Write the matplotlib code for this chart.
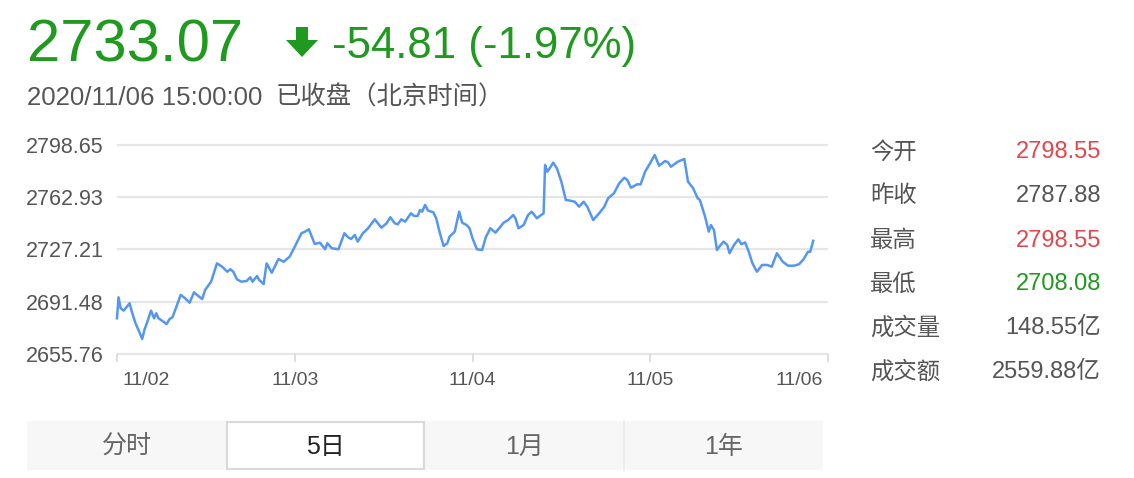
import matplotlib
matplotlib.use('Agg')
import matplotlib.pyplot as plt
import matplotlib.transforms as mtransforms
from matplotlib.patches import Rectangle, Polygon
from matplotlib.lines import Line2D

# ---------------- data ----------------
minutes = [0, 2, 5, 9, 14, 17, 20, 25, 29, 34, 37, 41, 46, 50, 53, 56, 61, 67, 71, 75,
           81, 86, 92, 98, 104, 108, 115, 119, 127, 135, 142, 149, 153, 157, 162, 168, 175, 180, 183, 189,
           192, 198, 202, 209, 218, 225, 233, 240, 249, 254, 259, 267, 274, 281, 284, 290, 299, 307, 312, 316,
           321, 325, 332, 339, 348, 357, 364, 369, 375, 379, 384, 389, 397, 401, 406, 409, 412, 416, 420, 427,
           431, 436, 441, 446, 449, 456, 462, 466, 472, 476, 480, 486, 493, 498, 504, 511, 516, 522, 528, 535,
           538, 542, 549, 555, 560, 567, 571, 576, 578, 581, 585, 589, 594, 600, 606, 612, 618, 624, 630, 635,
           643, 651, 658, 663, 671, 678, 685, 689, 694, 702, 707, 713, 719, 726, 732, 740, 744, 748, 757, 766,
           771, 778, 784, 787, 794, 799, 802, 806, 810, 815, 819, 824, 827, 833, 839, 843, 848, 853, 858, 864,
           871, 878, 884, 891, 899, 906, 914, 921, 927, 933, 936, 940]
prices = [2680.3, 2694.6, 2687.1, 2685.5, 2688.7, 2690.5, 2684.8, 2676.9, 2672.3, 2666.2,
          2672.3, 2678.0, 2685.5, 2680.3, 2683.7, 2680.3, 2678.6, 2676.4, 2679.8, 2681.0,
          2689.3, 2696.2, 2693.9, 2690.9, 2698.0, 2696.2, 2693.4, 2699.6, 2705.2, 2717.7,
          2715.4, 2712.0, 2713.7, 2712.0, 2706.8, 2705.2, 2705.7, 2708.2, 2705.2, 2709.1,
          2706.4, 2703.6, 2717.7, 2711.3, 2720.7, 2718.8, 2722.2, 2729.0, 2738.2, 2739.3,
          2740.9, 2730.9, 2731.8, 2727.3, 2731.4, 2728.0, 2727.3, 2738.2, 2735.5, 2734.3,
          2737.0, 2732.5, 2738.2, 2741.6, 2747.7, 2742.0, 2745.0, 2749.1, 2745.0, 2744.3,
          2747.7, 2746.1, 2751.8, 2750.0, 2750.0, 2754.0, 2752.9, 2757.5, 2753.6, 2752.5,
          2748.4, 2738.2, 2729.5, 2731.4, 2735.9, 2739.3, 2752.9, 2745.4, 2743.8, 2741.6,
          2734.8, 2727.3, 2726.8, 2735.5, 2741.6, 2738.6, 2741.6, 2745.4, 2747.2, 2750.6,
          2748.4, 2741.6, 2743.8, 2750.6, 2752.9, 2748.4, 2750.0, 2751.8, 2784.7, 2780.1,
          2783.1, 2786.3, 2782.4, 2773.3, 2760.9, 2760.4, 2759.7, 2756.3, 2759.7, 2756.3,
          2747.2, 2751.8, 2756.3, 2762.0, 2765.4, 2772.2, 2776.0, 2774.5, 2769.2, 2771.5,
          2771.5, 2780.1, 2785.2, 2791.5, 2784.2, 2787.4, 2786.5, 2783.5, 2786.9, 2788.8,
          2773.3, 2768.8, 2762.0, 2760.9, 2749.5, 2739.3, 2743.8, 2740.4, 2726.8, 2730.2,
          2732.5, 2730.2, 2724.6, 2730.2, 2734.1, 2730.7, 2732.0, 2725.6, 2717.7, 2712.0,
          2716.6, 2716.6, 2715.4, 2724.6, 2718.8, 2716.1, 2716.1, 2717.1, 2720.5, 2725.6,
          2725.6, 2733.07]
x_ticks = [0, 240, 480, 720, 960]
x_tick_labels = ['11/02', '11/03', '11/04', '11/05', '11/06']
y_ticks = [2655.76, 2691.48, 2727.21, 2762.93, 2798.65]
y_tick_labels = ['2655.76', '2691.48', '2727.21', '2762.93', '2798.65']

last_price = '2733.07'
change_text = '-54.81 (-1.97%)'
timestamp = '2020/11/06 15:00:00'
status_text = '已收盘（北京时间）'

stat_labels = ['今开', '昨收', '最高', '最低', '成交量', '成交额']
stat_values = ['2798.55', '2787.88', '2798.55', '2708.08', '148.55亿', '2559.88亿']
stat_kinds = ['up', 'flat', 'up', 'down', 'flat', 'flat']

tabs = ['分时', '5日', '1月', '1年']
selected_tab = 1

# ---------------- style ----------------
GREEN = '#1f9a1f'
RED = '#e5454b'
GRAY = '#555555'
LINE = '#5596f2'
kind_color = {'up': RED, 'down': GREEN, 'flat': GRAY}

plt.rcParams['font.family'] = ['Liberation Sans', 'Noto Sans CJK SC', 'DejaVu Sans']

W, H = 1134, 478
fig = plt.figure(figsize=(W / 100, H / 100), dpi=100)


def fx(x):
    return x / W


def fy(y):
    return 1 - y / H


# ---------------- header ----------------
fig.text(fx(27), fy(62), last_price, color=GREEN, fontsize=43, va='baseline', ha='left')
arrow = Polygon([(fx(296), fy(27)), (fx(308), fy(27)), (fx(308), fy(40)), (fx(318), fy(40)),
                 (fx(302), fy(57)), (fx(286), fy(40)), (fx(296), fy(40))],
                closed=True, transform=fig.transFigure, facecolor=GREEN, edgecolor='none')
fig.patches.append(arrow)
fig.text(fx(332), fy(58), change_text, color=GREEN, fontsize=31.5, va='baseline', ha='left')
fig.text(fx(27), fy(105), timestamp, color=GRAY, fontsize=18.6, va='baseline', ha='left')
fig.text(fx(276), fy(105), status_text, color=GRAY, fontsize=18.3, va='baseline', ha='left',
         family=['Noto Sans CJK SC', 'Liberation Sans'])

# ---------------- chart ----------------
left, right, top, bottom = 117, 828, 144.5, 354.3
ax = fig.add_axes([fx(left), fy(bottom), (right - left) / W, (bottom - top) / H])
ax.set_xlim(x_ticks[0], x_ticks[-1])
ax.set_ylim(y_ticks[0], y_ticks[-1])
ax.hlines(y_ticks, x_ticks[0], x_ticks[-1], colors='#e6e6e6', linewidth=1.6, clip_on=False, zorder=1)
ax.plot(minutes, prices, color=LINE, linewidth=1.8, solid_joinstyle='round', clip_on=False, zorder=3)
for s in ax.spines.values():
    s.set_visible(False)
ax.set_xticks(x_ticks)
ax.set_xticklabels(x_tick_labels)
ax.set_yticks(y_ticks)
ax.set_yticklabels(y_tick_labels)
ax.tick_params(axis='x', length=6, width=1.2, color='#d8d8d8', pad=7, labelsize=14, labelcolor=GRAY)
ax.tick_params(axis='y', length=0, pad=9.5, labelsize=15.5, labelcolor=GRAY)
xt = ax.get_xticklabels()
xt[0].set_ha('left')
xt[0].set_transform(xt[0].get_transform() + mtransforms.ScaledTranslation(0.05, 0, fig.dpi_scale_trans))
xt[-1].set_ha('right')
xt[-1].set_transform(xt[-1].get_transform() + mtransforms.ScaledTranslation(-0.05, 0, fig.dpi_scale_trans))

# ---------------- stats panel ----------------
row_centers = [150, 193.5, 238, 282, 326, 370]
for lab, val, kind, yc in zip(stat_labels, stat_values, stat_kinds, row_centers):
    base = yc + 8.5
    fig.text(fx(870), fy(base), lab, color=GRAY, fontsize=16.8, va='baseline', ha='left',
             family=['Noto Sans CJK SC', 'Liberation Sans'])
    fig.text(fx(1101), fy(base), val, color=kind_color[kind], fontsize=17, va='baseline', ha='right')

# ---------------- tabs ----------------
tab_left, tab_right, tab_top, tab_bot = 27, 823, 421, 470
fig.patches.append(Rectangle((fx(tab_left), fy(tab_bot)), (tab_right - tab_left) / W, (tab_bot - tab_top) / H,
                             transform=fig.transFigure, facecolor='#f7f7f7', edgecolor='none', zorder=0))
tab_w = (tab_right - tab_left) / len(tabs)
for i, t in enumerate(tabs):
    x0 = tab_left + i * tab_w
    if i == selected_tab:
        fig.patches.append(Rectangle((fx(x0 + 1), fy(tab_bot - 1)), (tab_w - 2) / W, (tab_bot - tab_top - 2) / H,
                                     transform=fig.transFigure, facecolor='white', edgecolor='#d9d9d9',
                                     linewidth=1.5, zorder=1))
    elif i > selected_tab + 1:
        fig.lines.append(Line2D([fx(x0), fx(x0)], [fy(tab_top), fy(tab_bot)], transform=fig.transFigure,
                                color='#ebebeb', linewidth=1.2))
    fig.text(fx(x0 + tab_w / 2), fy(454), t, color='#222222' if i == selected_tab else '#666666',
             fontsize=18, va='baseline', ha='center', family=['Liberation Sans', 'Noto Sans CJK SC'])

fig.savefig('out.png', dpi=100, facecolor='white')
